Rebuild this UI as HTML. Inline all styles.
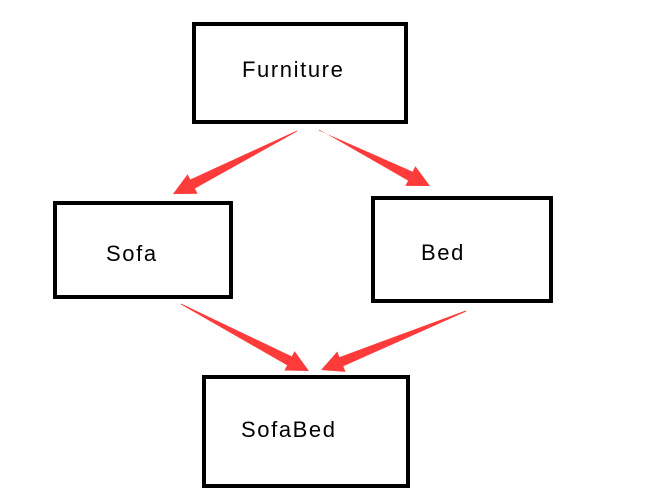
<!DOCTYPE html>
<html><head><meta charset="utf-8"><style>
html,body{margin:0;padding:0;background:#fff;width:670px;height:498px;overflow:hidden}
.b{position:absolute;border:4px solid #000;box-sizing:border-box;background:#fff}
.t{position:absolute;font-family:"Liberation Sans",sans-serif;font-size:22px;letter-spacing:1.6px;color:#000;line-height:1;white-space:nowrap}
</style></head><body>
<div class="b" style="left:192px;top:22px;width:216px;height:102px"></div>
<div class="b" style="left:53px;top:201px;width:180px;height:98px"></div>
<div class="b" style="left:371px;top:196px;width:182px;height:107px"></div>
<div class="b" style="left:202px;top:375px;width:208px;height:113px"></div>
<div class="t" style="left:242px;top:59px">Furniture</div>
<div class="t" style="left:106px;top:243px">Sofa</div>
<div class="t" style="left:421px;top:242px">Bed</div>
<div class="t" style="left:241px;top:419px">SofaBed</div>
<svg width="670" height="498" style="position:absolute;left:0;top:0">
<g fill="#fe3b3b">
<polygon points="296.8,130.6 190.3,179.5 187.6,174.2 173,194 197.6,193.8 194.9,188.5 297.2,131.4"/>
<polygon points="318.8,130.4 412.6,171.6 415.4,166.3 430,186 405.4,185.9 408.1,180.6 319.2,129.6"/>
<polygon points="181.2,303.6 291.8,356.4 294.6,351.1 309,371 284.4,370.5 287.1,365.2 180.8,304.4"/>
<polygon points="465.8,310.5 339.5,357.1 337.3,351.5 321,370 345.5,371.9 343.3,366.3 466.2,311.5"/>
</g></svg>
</body></html>
